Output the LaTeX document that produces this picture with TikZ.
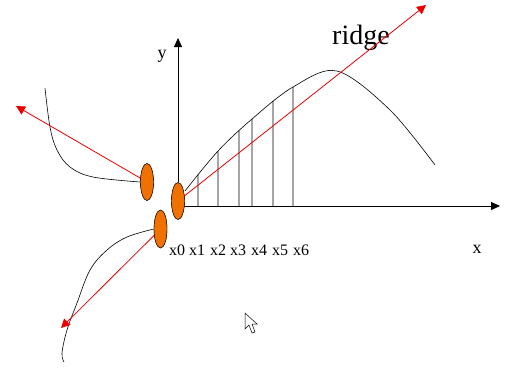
\documentclass[tikz,border=0pt]{standalone}
\usepackage{fontspec}
\setmainfont{Liberation Serif}
\usetikzlibrary{shapes.geometric,arrows.meta,intersections}
\definecolor{seedorange}{RGB}{240,112,0}
\definecolor{ridgered}{RGB}{235,0,0}
\tikzset{
  seed/.style={ellipse, draw=black, fill=seedorange, inner sep=0pt, minimum width=13pt, minimum height=37pt},
  ray/.style={ridgered, line width=0.8pt, -{Triangle[length=9pt,width=9pt]}},
  axis/.style={line width=0.8pt, -{Triangle[length=9pt,width=8pt]}},
  lbl/.style={font=\fontsize{16}{16}\selectfont, inner sep=0pt}
}
\begin{document}
\begin{tikzpicture}[x=1pt,y=-1pt]
    \useasboundingbox (0,0) rectangle (505,368);

    % seeds
    \node[seed] (e0) at (178,201) {};
    \node[seed] (eL) at (147,182) {};
    \node[seed, minimum height=38pt] (eB) at (160.5,229) {};

    % axes
    \coordinate (xend) at (500,206);
    \coordinate (yend) at (178,38);
    \draw[axis] (184,206) -- (xend);
    \draw[axis] (e0.north) -- (yend);
    \node[lbl, font=\fontsize{18}{18}\selectfont] (ylab) at (162,56) {y};
    \node[lbl, font=\fontsize{18}{18}\selectfont] (xlab) at (477,249) {x};

    % ridge curve and samples
    \draw[name path=ridgecurve, line width=0.6pt] plot[smooth, tension=0.55] coordinates {(185,191) (218,151)
        (252,119) (293,87) (337,71) (390,110) (435,165)};
    \foreach \px [count=\k] in {198, 218, 239, 252, 273, 293} {
        \path[name path=cut\k] (\px,210) -- (\px,40);
        \draw[line width=0.6pt, name intersections={of=ridgecurve and cut\k}] (\px,206) -- (intersection-1);
    }
    \foreach \i/\px in {0/177, 1/197, 2/218, 3/238, 4/259, 5/280, 6/301}
        \node[lbl] (lx\i) at (\px,250) {x\i};
    \node[lbl, font=\fontsize{28}{28}\selectfont] (ridge) at (361,38) {ridge};

    % tails on the left
    \draw[line width=0.6pt] plot[smooth, tension=0.6] coordinates {(45,88) (50,127) (57,150) (70,167) (93,177) (eL.west)};
    \draw[line width=0.6pt] plot[smooth, tension=0.6] coordinates {(eB.west) (127,237) (107,250) (90,270) (77,303)
        (67,330) (62,353) (64,362)};

    % rays
    \coordinate (tipR) at (426,5);
    \coordinate (tipL) at (16,106);
    \coordinate (tipB) at (61,328);
    \draw[ray] (e0.center) -- (tipR);
    \draw[ray] (eL.center) -- (tipL);
    \draw[ray] (eB.center) -- (tipB);
    \node[seed] at (e0) {};
    \node[seed] at (eL) {};
    \node[seed, minimum height=38pt] at (eB) {};

    % pointer
    \draw[line width=0.5pt, fill=white] (245,313) -- (245,329) -- (249,325) -- (252,333) -- (255,332)
        -- (252,324) -- (257,324) -- cycle;
\end{tikzpicture}
\end{document}
